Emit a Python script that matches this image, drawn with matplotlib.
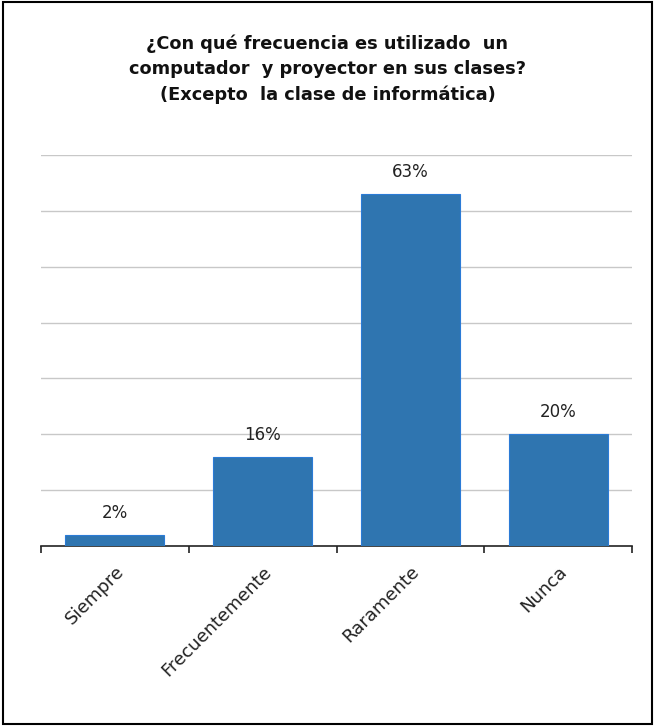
import numpy as np
import matplotlib.pyplot as plt
from matplotlib.patches import Rectangle

# datos de la encuesta
categorias = ['Siempre', 'Frecuentemente', 'Raramente', 'Nunca']
porcentajes = [2, 16, 63, 20]
titulo = '¿Con qué frecuencia es utilizado  un\ncomputador  y proyector en sus clases?\n(Excepto  la clase de informática)'

fig = plt.figure(figsize=(6.55, 7.26), dpi=100)
ax = fig.add_axes([0.0626, 0.248, 0.9024, 0.5385])

x = np.arange(len(categorias))
ax.bar(x, porcentajes, width=0.67, color='#2f75b0', edgecolor='#2b7bd6', linewidth=0.8, zorder=3)

for xi, v in zip(x, porcentajes):
    ax.text(xi, v + 2.3, f'{v}%', ha='center', va='bottom', fontsize=12, color='#222222')

ax.set_xlim(-0.5, len(categorias) - 0.5)
ax.set_ylim(0, 70)
ax.set_yticks(np.arange(10, 71, 10))
ax.yaxis.grid(True, color='#c8c8c8', linewidth=1, zorder=0)
ax.tick_params(axis='y', length=0, labelleft=False)

ax.set_xticks(x)
ax.set_xticklabels(categorias, rotation=45, ha='right', rotation_mode='anchor', fontsize=13, color='#222222')
ax.set_xticks(np.arange(-0.5, len(categorias), 1), minor=True)
ax.tick_params(axis='x', which='major', length=0, pad=12)
ax.tick_params(axis='x', which='minor', length=5, width=1.2, color='#222222')

for s in ['top', 'right', 'left']:
    ax.spines[s].set_visible(False)
ax.spines['bottom'].set_color('#222222')
ax.spines['bottom'].set_linewidth(1.2)

fig.text(0.5, 0.952, titulo, ha='center', va='top', fontsize=12.8, fontweight='bold',
         linespacing=1.5, color='#111111')

fig.patches.append(Rectangle((0.004, 0.003), 0.992, 0.994, transform=fig.transFigure,
                             fill=False, edgecolor='black', linewidth=1.5))

plt.savefig('out.png', dpi=100)
